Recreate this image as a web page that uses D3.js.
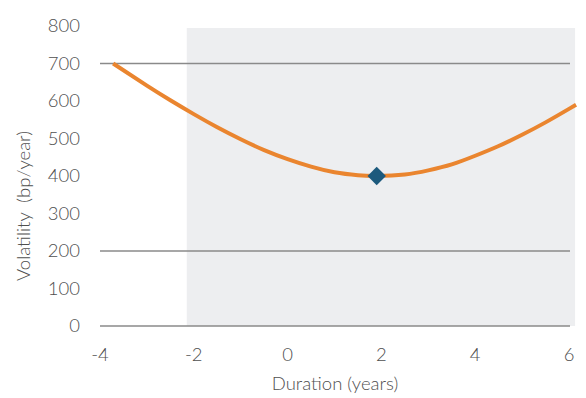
<!DOCTYPE html>
<html>
<head>
<meta charset="utf-8">
<script src="https://cdn.jsdelivr.net/npm/d3@7"></script>
<style>
  body { margin: 0; background: #fff; }
  text { font-family: Lato, "Open Sans", sans-serif; font-weight: 300; fill: #4f4f4f; }
</style>
</head>
<body>
<div id="chart"></div>
<script>
// curve: duration (years) vs volatility (bp/year)
const durations = [-3.72, -3, -2.5, -2, -1.5, -1, -0.5, 0, 0.5, 1, 1.5, 1.9, 2.5, 3, 3.5, 4, 4.5, 5, 5.5, 6, 6.15];
const volatility = [700, 641, 602, 565, 530, 498, 469, 445, 425, 410, 402, 400, 404, 415, 431, 454, 480, 510, 543, 579, 590];
const minPoint = [1.9, 400];
const shadedRange = [-2.15, 6.13];
const gridValues = [0, 200, 700];
const xTicks = [-4, -2, 0, 2, 4, 6];
const yTicks = [0, 100, 200, 300, 400, 500, 600, 700, 800];

const width = 586, height = 398;

const svg = d3.select("#chart")
  .append("svg")
  .attr("width", width)
  .attr("height", height);

const x = d3.scaleLinear().domain([-4, 6]).range([100, 569]);
const y = d3.scaleLinear().domain([0, 800]).range([326, 26]);

// shaded area
svg.append("rect")
  .attr("x", x(shadedRange[0]))
  .attr("y", y(800) + 2)
  .attr("width", x(shadedRange[1]) - x(shadedRange[0]))
  .attr("height", y(0) - y(800) - 2)
  .attr("fill", "#edeef0");

// horizontal lines
svg.selectAll(".grid")
  .data(gridValues)
  .enter().append("line")
  .attr("x1", x(-4))
  .attr("x2", x(6) + 1)
  .attr("y1", d => y(d))
  .attr("y2", d => y(d))
  .attr("stroke", "#8a8a8a")
  .attr("stroke-width", 1.5);

// Y Axis labels
svg.selectAll(".ylab")
  .data(yTicks)
  .enter().append("text")
  .attr("x", 80)
  .attr("y", d => y(d))
  .attr("dy", "0.35em")
  .attr("text-anchor", "end")
  .attr("font-size", 18.5)
  .text(d => d);

// X Axis labels
svg.selectAll(".xlab")
  .data(xTicks)
  .enter().append("text")
  .attr("x", d => x(d))
  .attr("y", 355)
  .attr("dy", "0.35em")
  .attr("text-anchor", "middle")
  .attr("font-size", 18.5)
  .text(d => d);

// axis titles
svg.append("text")
  .attr("x", 335)
  .attr("y", 384)
  .attr("dy", "0.35em")
  .attr("text-anchor", "middle")
  .attr("font-size", 18.5)
  .text("Duration (years)");

svg.append("text")
  .attr("transform", "translate(24,206) rotate(-90)")
  .attr("dy", "0.35em")
  .attr("text-anchor", "middle")
  .attr("font-size", 18.5)
  .text("Volatility\u00a0 (bp/year)");

// curve
const line = d3.line()
  .x((d, i) => x(durations[i]))
  .y(d => y(d))
  .curve(d3.curveNatural);

svg.append("path")
  .datum(volatility)
  .attr("d", line)
  .attr("fill", "none")
  .attr("stroke", "#ea852f")
  .attr("stroke-width", 4);

// minimum point
svg.append("path")
  .attr("d", d3.symbol().type(d3.symbolSquare).size(170)())
  .attr("transform", `translate(${x(minPoint[0])},${y(minPoint[1])}) rotate(45)`)
  .attr("fill", "#1c5a7d");
</script>
</body>
</html>
